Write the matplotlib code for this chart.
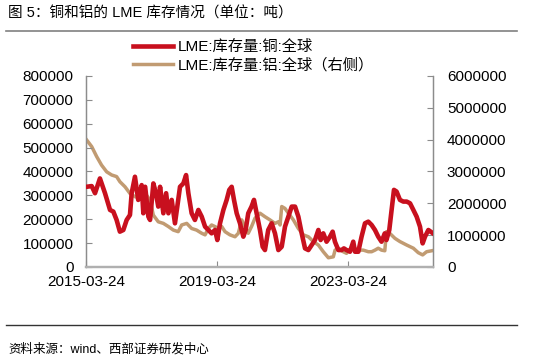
import numpy as np
import pandas as pd
import matplotlib.pyplot as plt
import matplotlib.dates as mdates
from matplotlib.ticker import FuncFormatter

plt.rcParams['font.family'] = ['Liberation Sans', 'Noto Sans CJK SC']

# copper stocks (left axis), decimal year and tonnes
cu_year = [2015.245, 2015.398, 2015.50, 2015.65, 2015.805, 2015.958, 2016.06, 2016.16, 2016.26, 2016.365,
           2016.467, 2016.568, 2016.62, 2016.72, 2016.82, 2016.925, 2016.976, 2017.03, 2017.128, 2017.18,
           2017.28, 2017.36, 2017.43, 2017.485, 2017.586, 2017.67, 2017.74, 2017.84, 2017.94, 2018.04,
           2018.095, 2018.197, 2018.28, 2018.35, 2018.45, 2018.55, 2018.655, 2018.757, 2018.86, 2018.96,
           2019.06, 2019.164, 2019.235, 2019.317, 2019.42, 2019.52, 2019.60, 2019.673, 2019.744, 2019.826,
           2019.927, 2020.03, 2020.10, 2020.18, 2020.28, 2020.355, 2020.436, 2020.538, 2020.62, 2020.69,
           2020.79, 2020.895, 2020.996, 2021.098, 2021.20, 2021.30, 2021.403, 2021.505, 2021.607, 2021.708,
           2021.81, 2021.912, 2022.014, 2022.116, 2022.217, 2022.32, 2022.39, 2022.47, 2022.57, 2022.675,
           2022.756, 2022.826, 2022.93, 2023.03, 2023.10, 2023.18, 2023.286, 2023.386, 2023.44, 2023.54,
           2023.64, 2023.744, 2023.846, 2023.947, 2024.05, 2024.15, 2024.25, 2024.35, 2024.40, 2024.487,
           2024.558, 2024.63, 2024.71, 2024.813, 2024.915, 2025.016, 2025.118, 2025.22, 2025.32, 2025.423,
           2025.504, 2025.576, 2025.678, 2025.75, 2025.82]
cu_stock = [336000, 339000, 309000, 371000, 309000, 239000, 232000, 197000, 148000, 155000,
            197000, 218000, 309000, 378000, 281000, 343000, 225000, 336000, 211000, 197000,
            350000, 309000, 253000, 336000, 225000, 309000, 225000, 281000, 183000, 281000,
            336000, 350000, 385000, 309000, 225000, 197000, 239000, 211000, 169000, 155000,
            141000, 155000, 113000, 183000, 239000, 281000, 323000, 336000, 281000, 225000,
            183000, 127000, 155000, 225000, 253000, 281000, 225000, 155000, 85000, 71000,
            155000, 183000, 141000, 71000, 85000, 169000, 211000, 253000, 253000, 211000,
            141000, 78000, 71000, 92000, 113000, 155000, 113000, 141000, 106000, 127000,
            148000, 106000, 71000, 71000, 78000, 71000, 64000, 106000, 64000, 64000,
            127000, 183000, 190000, 176000, 155000, 127000, 106000, 141000, 113000, 155000,
            239000, 323000, 316000, 281000, 274000, 274000, 267000, 239000, 211000, 169000,
            99000, 127000, 155000, 148000, 141000]

# aluminium stocks (right axis)
al_year = [2015.245, 2015.40, 2015.55, 2015.70, 2015.856, 2016.01, 2016.16, 2016.26, 2016.416, 2016.568,
           2016.72, 2016.874, 2017.03, 2017.18, 2017.28, 2017.43, 2017.586, 2017.74, 2017.89, 2018.04,
           2018.146, 2018.30, 2018.45, 2018.60, 2018.757, 2018.86, 2018.96, 2019.06, 2019.164, 2019.266,
           2019.37, 2019.47, 2019.62, 2019.775, 2019.876, 2019.98, 2020.08, 2020.18, 2020.28, 2020.385,
           2020.538, 2020.69, 2020.843, 2020.996, 2021.098, 2021.15, 2021.20, 2021.30, 2021.403, 2021.556,
           2021.708, 2021.86, 2022.014, 2022.167, 2022.32, 2022.47, 2022.625, 2022.777, 2022.83, 2022.93,
           2023.08, 2023.18, 2023.235, 2023.386, 2023.54, 2023.693, 2023.846, 2023.947, 2024.05, 2024.15,
           2024.25, 2024.35, 2024.40, 2024.50, 2024.66, 2024.81, 2025.016, 2025.22, 2025.37, 2025.504,
           2025.625, 2025.78]
al_stock = [3990000, 3780000, 3470000, 3200000, 2990000, 2890000, 2840000, 2680000, 2520000, 2310000,
            2210000, 2160000, 2310000, 2100000, 1630000, 1420000, 1370000, 1270000, 1160000, 1110000,
            1320000, 1370000, 1210000, 1160000, 1060000, 1010000, 1210000, 1320000, 1270000, 1210000,
            1270000, 1110000, 1010000, 950000, 1060000, 1480000, 1270000, 1060000, 1270000, 1530000,
            1690000, 1580000, 1480000, 1370000, 1420000, 1320000, 1900000, 1840000, 1690000, 1480000,
            1210000, 1010000, 950000, 800000, 690000, 480000, 290000, 320000, 530000, 590000,
            480000, 430000, 530000, 590000, 530000, 530000, 480000, 480000, 530000, 590000,
            530000, 510000, 1110000, 1060000, 900000, 800000, 690000, 590000, 450000, 380000,
            480000, 510000]

xtick_labels = ['2015-03-24', '2019-03-24', '2023-03-24']


def to_dates(years):
    years = np.asarray(years)
    start = pd.to_datetime(np.floor(years).astype(int).astype(str) + '-01-01')
    return start + pd.to_timedelta((years - np.floor(years)) * 365.25, unit='D')


cu_x = to_dates(cu_year)
al_x = to_dates(al_year)

fig = plt.figure(figsize=(5.34, 3.62), dpi=100)
ax = fig.add_axes([86 / 534, 1 - 267 / 362, 347 / 534, 191 / 362])
ax2 = ax.twinx()

l1, = ax.plot(cu_x, cu_stock, color='#C8101E', lw=3.3, label='LME:库存量:铜:全球', zorder=3)
l2, = ax2.plot(al_x, al_stock, color='#C19B72', lw=2.5, label='LME:库存量:铝:全球（右侧）')
ax.set_zorder(ax2.get_zorder() + 1)
ax.patch.set_visible(False)

plain = FuncFormatter(lambda v, p: '%d' % v)
ax.set_ylim(0, 800000)
ax.set_yticks(np.arange(0, 800001, 100000))
ax.yaxis.set_major_formatter(plain)
ax2.set_ylim(0, 6000000)
ax2.set_yticks(np.arange(0, 6000001, 1000000))
ax2.yaxis.set_major_formatter(plain)
ax.set_xlim(pd.Timestamp('2015-03-24'), cu_x[-1])
ax.set_xticks(pd.to_datetime(xtick_labels))
ax.xaxis.set_major_formatter(mdates.DateFormatter('%Y-%m-%d'))

for a in (ax, ax2):
    a.spines['top'].set_visible(False)
    for s in ('left', 'right'):
        a.spines[s].set_color('#8c8c8c')
        a.spines[s].set_linewidth(0.9)
    a.spines['bottom'].set_color('#b0b0b0')
    a.spines['bottom'].set_linewidth(1.6)
    a.tick_params(direction='in', labelsize=11, colors='#8c8c8c', labelcolor='black', length=4)
ax.tick_params(axis='x', pad=6)
ax.tick_params(axis='y', pad=9)
ax2.tick_params(axis='y', pad=10)

fig.legend(handles=[l1, l2], loc='upper left', bbox_to_anchor=(133 / 534, 1 - 40 / 362),
           frameon=False, fontsize=11, handlelength=2.6, handletextpad=0.3,
           labelspacing=0.25, borderpad=0, borderaxespad=0)

fig.text(8 / 534, 1 - 14 / 362, '图 5：铜和铝的 LME 库存情况（单位：吨）', fontsize=10.5,
         va='center', ha='left')
fig.add_artist(plt.Line2D([6 / 534, 517 / 534], [1 - 31 / 362] * 2, color='#808080', lw=1.2))
fig.add_artist(plt.Line2D([6 / 534, 517 / 534], [1 - 325 / 362] * 2, color='#333333', lw=1.0))
fig.text(8 / 534, 1 - 349 / 362, '资料来源：wind、西部证券研发中心', fontsize=9,
         va='center', ha='left')

fig.savefig('out.png', dpi=100)
